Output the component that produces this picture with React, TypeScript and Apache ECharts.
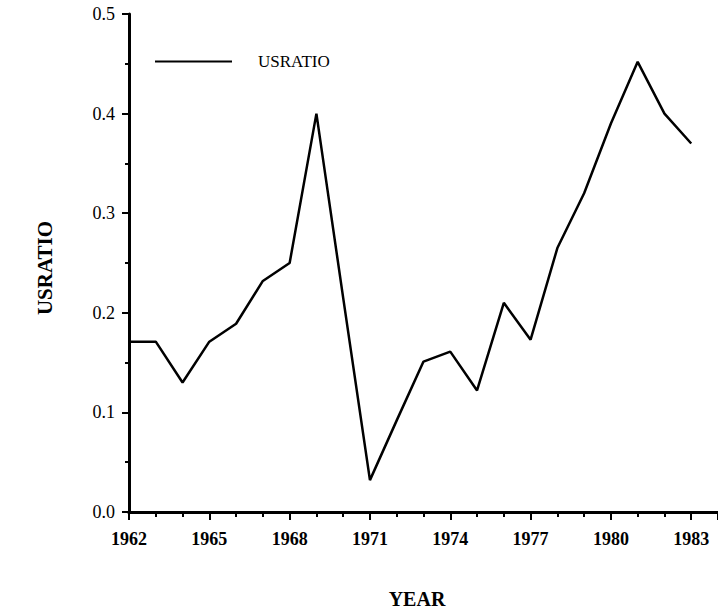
import React, { useEffect, useRef } from "react";
import * as echarts from "echarts";

const years = [1962, 1963, 1964, 1965, 1966, 1967, 1968, 1969, 1970, 1971, 1972, 1973, 1974, 1975, 1976, 1977, 1978, 1979, 1980, 1981, 1982, 1983];
const usratio = [0.171, 0.171, 0.13, 0.171, 0.189, 0.232, 0.25, 0.4, 0.215, 0.032, 0.092, 0.151, 0.161, 0.122, 0.21, 0.173, 0.265, 0.32, 0.39, 0.452, 0.4, 0.37];
const seriesName = "USRATIO";
const xTitle = "YEAR";
const yTitle = "USRATIO";

const FONT = "'Liberation Serif', 'Times New Roman', serif";

export default function App() {
  const ref = useRef<HTMLDivElement>(null);
  useEffect(() => {
    if (!ref.current) return;
    const chart = echarts.init(ref.current, undefined, { renderer: "svg" });
    const data = years.map((y, i) => [y, usratio[i]]);
    chart.setOption({
      animation: false,
      backgroundColor: "#fff",
      textStyle: { fontFamily: FONT, color: "#000" },
      grid: { left: 129, top: 14, right: -1, bottom: 100, containLabel: false },
      legend: {
        left: 155,
        top: 53,
        padding: 0,
        data: [seriesName],
        icon: "rect",
        itemWidth: 77,
        itemHeight: 2,
        textStyle: { fontFamily: FONT, fontSize: 17, color: "#000", padding: [0, 0, 0, 21] },
      },
      xAxis: [
        {
          type: "value",
          min: 1962,
          max: 1984,
          interval: 3,
          axisLine: { show: true, onZero: false, lineStyle: { color: "#000", width: 3 } },
          axisTick: { show: true, length: 8, inside: false, lineStyle: { color: "#000", width: 2 } },
          minorTick: { show: true, splitNumber: 3, length: 5, lineStyle: { color: "#000", width: 2 } },
          splitLine: { show: false },
          axisLabel: {
            margin: 18,
            fontFamily: FONT,
            fontSize: 18,
            fontWeight: "bold",
            color: "#000",
            showMaxLabel: false,
            formatter: (v: number) => String(v),
          },
        },
        {
          type: "value",
          position: "top",
          min: 1962,
          max: 1984,
          axisLine: { show: true, lineStyle: { color: "#000", width: 3 } },
          axisTick: { show: false },
          axisLabel: { show: false },
          splitLine: { show: false },
        },
      ],
      yAxis: {
        type: "value",
        min: 0,
        max: 0.5,
        interval: 0.1,
        axisLine: { show: true, onZero: false, lineStyle: { color: "#000", width: 3 } },
        axisTick: { show: true, length: 7, lineStyle: { color: "#000", width: 2 } },
        minorTick: { show: true, splitNumber: 2, length: 4, lineStyle: { color: "#000", width: 2 } },
        splitLine: { show: false },
        axisLabel: {
          margin: 14,
          fontFamily: FONT,
          fontSize: 18,
          color: "#000",
          formatter: (v: number) => v.toFixed(1),
        },
      },
      graphic: [
        {
          type: "text",
          x: 45,
          y: 268,
          rotation: Math.PI / 2,
          style: {
            text: yTitle,
            fontFamily: FONT,
            fontSize: 21,
            fontWeight: "bold",
            fill: "#000",
            align: "center",
            verticalAlign: "middle",
          },
        },
        {
          type: "text",
          x: 417,
          y: 599,
          style: {
            text: xTitle,
            fontFamily: FONT,
            fontSize: 20,
            fontWeight: "bold",
            fill: "#000",
            align: "center",
            verticalAlign: "middle",
          },
        },
      ],
      series: [
        {
          name: seriesName,
          type: "line",
          data,
          showSymbol: false,
          symbol: "none",
          lineStyle: { color: "#000", width: 2.5 },
          itemStyle: { color: "#000" },
        },
      ],
    });
    return () => chart.dispose();
  }, []);
  return <div ref={ref} style={{ width: 718, height: 612, position: "absolute", left: 0, top: 0 }} />;
}
